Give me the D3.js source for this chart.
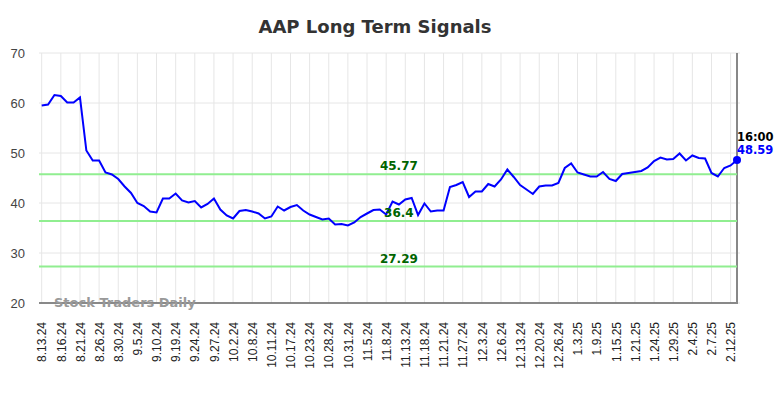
<!DOCTYPE html>
<html lang="en">
<head>
    <script src="https://d3js.org/d3.v7.min.js"></script>
    <style>
        body {
            margin: 0;
            font-family: 'DejaVu Sans', Arial, sans-serif;
            background: #fff;
        }
        .title {
            font-size: 18px;
            font-weight: bold;
            fill: #333;
            text-anchor: middle;
        }
        .grid line {
            stroke: #e6e6e6;
            stroke-width: 1px;
        }
        .y-axis text {
            font-size: 13px;
            fill: #444;
        }
        .x-axis text {
            font-size: 12px;
            fill: #222;
        }
        .level {
            stroke: #90ee90;
            stroke-width: 2px;
        }
        .level-label {
            font-size: 12px;
            font-weight: bold;
            fill: #006400;
            text-anchor: middle;
        }
        .watermark {
            font-size: 13px;
            font-weight: bold;
            fill: #999;
        }
        .price {
            fill: none;
            stroke: #0000ff;
            stroke-width: 2px;
        }
        .end-label {
            font-size: 11.5px;
            font-weight: bold;
        }
    </style>
</head>
<body>
<script>
    // tick labels, one every 3 trading days
    var tickLabels = ["8.13.24", "8.16.24", "8.21.24", "8.26.24", "8.30.24", "9.5.24", "9.10.24",
        "9.19.24", "9.24.24", "9.27.24", "10.2.24", "10.8.24", "10.11.24", "10.17.24", "10.23.24",
        "10.28.24", "10.31.24", "11.5.24", "11.8.24", "11.13.24", "11.18.24", "11.21.24", "11.27.24",
        "12.3.24", "12.6.24", "12.13.24", "12.20.24", "12.26.24", "1.3.25", "1.9.25", "1.15.25",
        "1.21.25", "1.24.25", "1.29.25", "2.4.25", "2.7.25", "2.12.25"];

    // closing values
    var prices = [
        59.5, 59.7, 61.6, 61.4, 60.1, 60.1, 61.1, 50.5, 48.5, 48.5,
        46.1, 45.7, 44.8, 43.3, 42.0, 40.0, 39.4, 38.3, 38.1, 40.9,
        40.9, 41.9, 40.5, 40.1, 40.4, 39.1, 39.8, 40.9, 38.7, 37.5,
        36.9, 38.4, 38.6, 38.3, 37.9, 36.9, 37.3, 39.3, 38.5, 39.2,
        39.6, 38.5, 37.7, 37.2, 36.7, 36.9, 35.7, 35.8, 35.5, 36.1,
        37.2, 37.9, 38.6, 38.7, 37.7, 40.3, 39.7, 40.7, 41.0, 37.6,
        39.9, 38.3, 38.5, 38.5, 43.2, 43.6, 44.2, 41.2, 42.3, 42.3,
        43.8, 43.3, 44.7, 46.7, 45.2, 43.6, 42.7, 41.8, 43.3, 43.5,
        43.5, 44.0, 47.0, 47.9, 46.1, 45.7, 45.3, 45.3, 46.2, 44.8,
        44.4, 45.8, 46.0, 46.2, 46.4, 47.1, 48.4, 49.1, 48.7, 48.8,
        49.9, 48.5, 49.5, 49.0, 48.9, 46.0, 45.3, 47.0, 47.5, 48.59
    ];

    // support / resistance levels
    var levels = [45.77, 36.4, 27.29];
    var levelLabels = ["45.77", "36.4", "27.29"];

    var yTicks = [20, 30, 40, 50, 60, 70];

    var width = 784, height = 398;
    var margin = {top: 53, right: 47, bottom: 95, left: 40};

    var svg = d3.select("body").append("svg")
        .attr("width", width)
        .attr("height", height);

    svg.append("text")
        .attr("class", "title")
        .attr("x", 375)
        .attr("y", 33)
        .text("AAP Long Term Signals");

    var x = d3.scaleLinear()
        .domain([0, prices.length - 1])
        .range([41.7, width - margin.right]);

    var y = d3.scaleLinear()
        .domain([20, 70])
        .range([height - margin.bottom, margin.top]);

    var tickIdx = tickLabels.map(function(d, i) { return i * 3; });

    // vertical grid
    svg.append("g")
        .attr("class", "grid")
        .selectAll("line")
        .data(tickIdx)
        .enter().append("line")
        .attr("x1", function(d) { return x(d); })
        .attr("x2", function(d) { return x(d); })
        .attr("y1", y(70))
        .attr("y2", y(20));

    // horizontal grid
    svg.append("g")
        .attr("class", "grid")
        .selectAll("line")
        .data(yTicks)
        .enter().append("line")
        .attr("x1", margin.left - 1)
        .attr("x2", width - margin.right + 3)
        .attr("y1", function(d) { return y(d); })
        .attr("y2", function(d) { return y(d); });

    // y axis labels
    svg.append("g")
        .attr("class", "y-axis")
        .attr("transform", "translate(" + (margin.left - 15) + ",0)")
        .call(d3.axisLeft(y).tickValues(yTicks).tickSize(0).tickPadding(0))
        .call(function(g) { g.select(".domain").remove(); });

    // x axis labels
    svg.append("g")
        .attr("class", "x-axis")
        .attr("transform", "translate(0," + y(20) + ")")
        .call(d3.axisBottom(x).tickValues(tickIdx).tickSize(0)
            .tickFormat(function(d) { return tickLabels[d / 3]; }))
        .call(function(g) { g.select(".domain").remove(); })
        .selectAll("text")
        .attr("transform", "rotate(-90)")
        .attr("text-anchor", "end")
        .attr("x", -19)
        .attr("y", 0)
        .attr("dy", "0.35em");

    // bottom axis line
    svg.append("line")
        .attr("x1", margin.left - 1)
        .attr("x2", width - margin.right + 1)
        .attr("y1", y(20))
        .attr("y2", y(20))
        .attr("stroke", "#666")
        .attr("stroke-width", 1.5);

    // right edge marker
    svg.append("line")
        .attr("x1", x(prices.length - 1))
        .attr("x2", x(prices.length - 1))
        .attr("y1", y(70))
        .attr("y2", y(20))
        .attr("stroke", "#888")
        .attr("stroke-width", 2);

    // levels
    svg.selectAll(".level")
        .data(levels)
        .enter().append("line")
        .attr("class", "level")
        .attr("x1", margin.left - 1)
        .attr("x2", x(prices.length - 1))
        .attr("y1", function(d) { return y(d); })
        .attr("y2", function(d) { return y(d); });

    svg.append("text")
        .attr("class", "watermark")
        .attr("x", 54)
        .attr("y", 307)
        .text("Stock Traders Daily");

    // price line
    var line = d3.line()
        .x(function(d, i) { return x(i); })
        .y(function(d) { return y(d); });

    svg.append("path")
        .datum(prices)
        .attr("class", "price")
        .attr("d", line);

    svg.selectAll(".level-label")
        .data(levels)
        .enter().append("text")
        .attr("class", "level-label")
        .attr("x", x(56))
        .attr("y", function(d) { return y(d) - 4; })
        .text(function(d, i) { return levelLabels[i]; });

    // last point
    var last = prices.length - 1;
    svg.append("circle")
        .attr("cx", x(last))
        .attr("cy", y(prices[last]))
        .attr("r", 4)
        .attr("fill", "#0000ff");

    svg.append("text")
        .attr("class", "end-label")
        .attr("x", x(last))
        .attr("y", 141)
        .attr("fill", "#000")
        .text("16:00");

    svg.append("text")
        .attr("class", "end-label")
        .attr("x", x(last))
        .attr("y", 154)
        .attr("fill", "#0000ff")
        .text(prices[last].toFixed(2));
</script>
</body>
</html>
